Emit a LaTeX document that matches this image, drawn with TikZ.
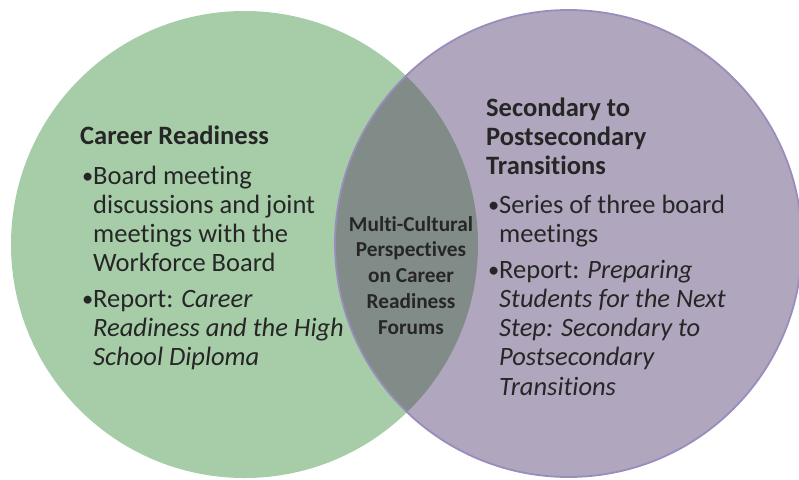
\documentclass[tikz,border=0pt]{standalone}
\usepackage{fontspec}
\setmainfont{Carlito}[Ligatures=NoCommon]
\definecolor{greenfill}{HTML}{A6CDA8}
\definecolor{purplefill}{HTML}{B0A6BE}
\definecolor{overlapfill}{HTML}{818C89}
\definecolor{purpleline}{HTML}{9A8CBC}
\definecolor{txt}{HTML}{262626}
\tikzset{
  txtnode/.style={anchor=base west, inner sep=0pt, text=txt},
  bodyfont/.style={font=\fontsize{26.5}{29.3}\selectfont},
}
\newcommand{\bulpar}[3]{\parbox[t]{#1}{\hangindent=#2\hangafter=1\noindent\makebox[#2][l]{\hspace{1pt}\raisebox{1pt}{\scalebox{0.85}{•}}}#3}}
\begin{document}
\begin{tikzpicture}[x=1pt,y=-1pt]
\useasboundingbox (0,0) rectangle (799,479);
\begin{scope}
\clip (0,0) rectangle (799,479);
\fill[greenfill] (244.5,244.5) circle[radius=233.5];
\fill[purplefill] (568.5,243.5) circle[radius=233.5];
\begin{scope}
\clip (244.5,244.5) circle[radius=233.5];
\fill[overlapfill] (568.5,243.5) circle[radius=233.5];
\end{scope}
\draw[purpleline, line width=1.8pt] (568.5,243.5) circle[radius=233.5];
\end{scope}
% left set
\node[txtnode, bodyfont] (crtitle) at (80,144) {\parbox[t]{260pt}{\bfseries Career Readiness}};
\node[txtnode, bodyfont] (crb1) at (81,184) {\bulpar{260pt}{12pt}{Board meeting\\discussions and joint\\meetings with the\\Workforce Board}};
\node[txtnode, bodyfont] (crb2) at (81,307) {\bulpar{270pt}{12pt}{Report: \textit{Career\\Readiness and the High\\School Diploma}}};
% right set
\node[txtnode, bodyfont] (sptitle) at (486,116) {\parbox[t]{260pt}{\bfseries Secondary to\\Postsecondary\\Transitions}};
\node[txtnode, bodyfont] (spb1) at (487,213) {\bulpar{260pt}{12pt}{Series of three board\\meetings}};
\node[txtnode, bodyfont] (spb2) at (487,278) {\bulpar{260pt}{12pt}{Report: \textit{Preparing\\Students for the Next\\Step: Secondary to\\Postsecondary\\Transitions}}};
% overlap
\node[anchor=base, inner sep=0pt, text=txt, font=\fontsize{21.3}{25.8}\selectfont\bfseries] (mid) at (411,231) {\parbox[t]{140pt}{\centering Multi-Cultural\\Perspectives\\on Career\\Readiness\\Forums}};
\end{tikzpicture}
\end{document}
